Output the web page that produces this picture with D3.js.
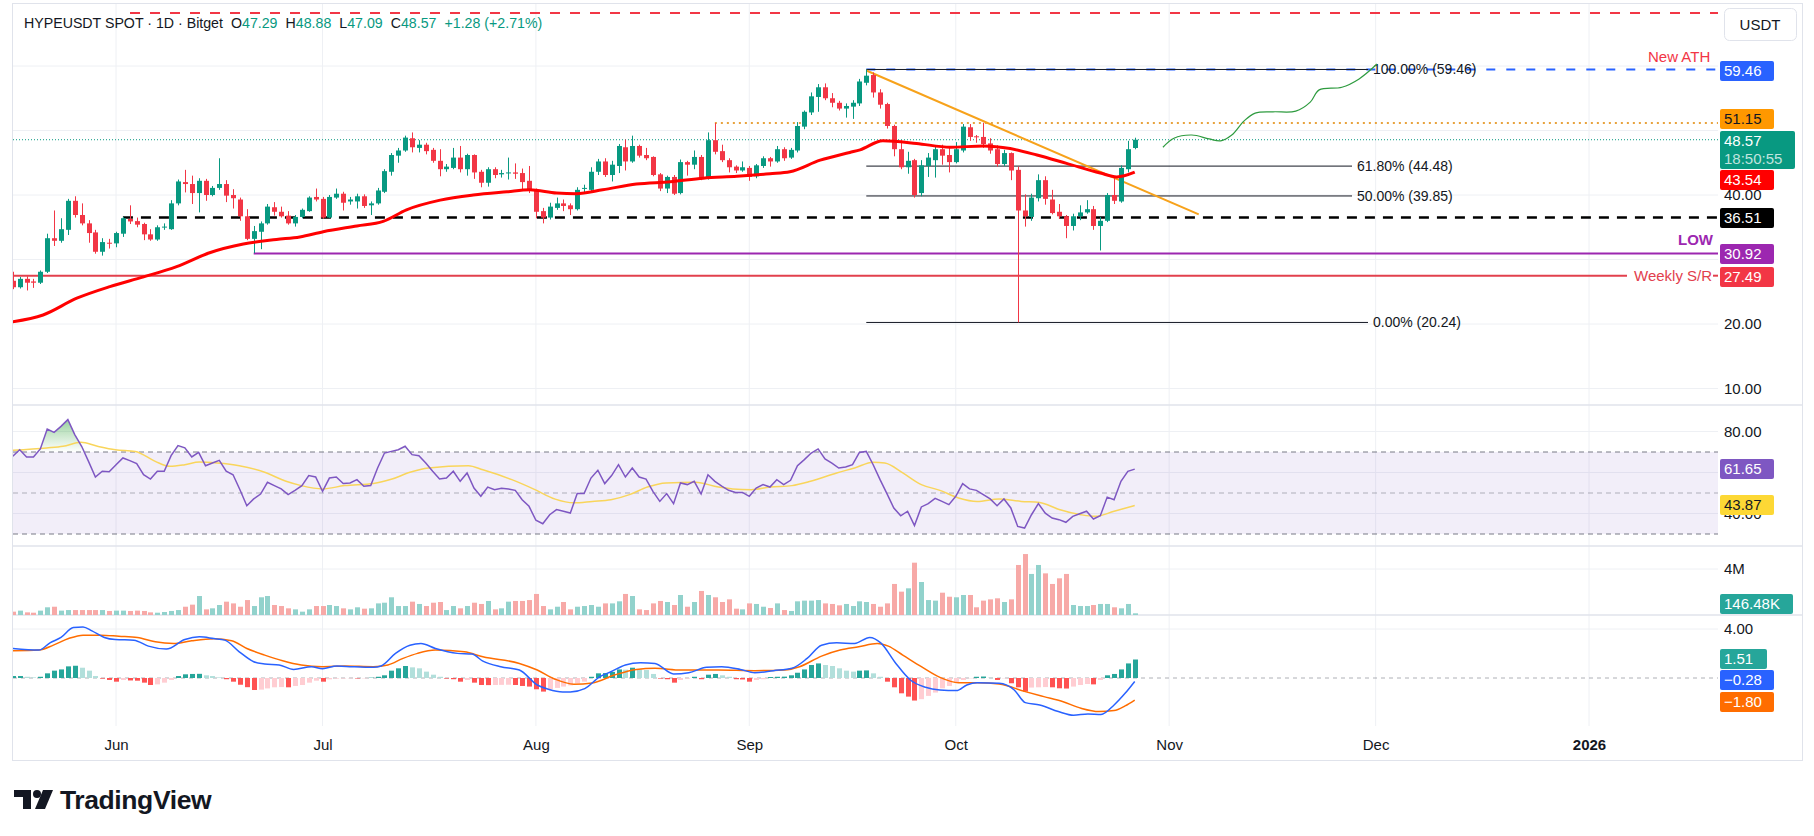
<!DOCTYPE html>
<html>
<head>
<meta charset="utf-8">
<title>HYPEUSDT SPOT 1D</title>
<script src="https://cdn.jsdelivr.net/npm/d3@7"></script>
<style>
  body { margin: 0; background: #fff; }
  svg { display: block; font-family: 'Liberation Sans', Arial, sans-serif; }
  .axis text { font-size: 15px; fill: #131722; font-family: 'Liberation Sans', Arial, sans-serif; }
  .tag text { font-size: 15px; }
</style>
</head>
<body>
<svg id="chart" width="1814" height="836"></svg>
<script>
// daily candles, 17 May 2025 .. 27 Oct 2025
const open = [26.7,25.7,27.0,26.6,26.4,28.1,33.3,32.9,34.6,39.1,
  36.9,35.6,34.2,31.2,32.6,32.5,34.0,36.3,35.95,35.5,
  33.9,33.1,35.0,34.7,38.7,42.0,41.7,40.3,42.2,40.0,
  41.1,41.7,40.0,39.3,36.7,33.2,34.3,35.6,38.1,37.4,
  36.8,35.6,36.6,37.5,39.7,39.4,36.5,39.6,40.2,39.0,
  39.0,39.8,38.4,38.7,40.5,43.6,46.1,46.9,48.8,47.3,
  47.8,47.0,45.3,44.0,44.2,45.8,44.0,46.2,43.6,41.9,
  44.0,43.2,43.4,43.5,43.4,42.2,40.8,37.5,36.5,38.0,
  38.7,38.4,37.8,41.0,40.8,43.6,45.2,43.1,44.5,47.4,
  45.2,47.6,46.2,45.9,43.2,41.0,42.8,40.3,45.1,44.7,
  45.9,42.6,48.5,46.8,45.4,44.4,43.8,44.2,42.9,44.5,
  45.7,45.2,47.1,45.8,46.9,50.6,52.8,55.2,56.7,55.0,
  54.3,53.4,53.7,54.2,57.4,58.6,55.9,54.1,50.7,47.1,
  44.3,45.4,40.3,44.5,45.4,47.1,46.2,45.1,46.9,50.5,
  49.1,49.0,48.0,47.1,44.8,46.5,43.9,37.6,36.6,39.5,
  42.3,39.3,37.4,36.7,35.2,36.7,37.3,37.8,35.2,36.0,
  40.0,39.0,44.0,47.29];
const high = [28.1,27.3,27.4,27.0,28.3,34.0,37.6,36.4,39.4,39.8,
  38.7,36.1,34.6,33.3,33.2,34.3,36.6,38.4,36.5,35.7,
  34.7,35.3,35.6,39.2,42.4,43.9,43.0,42.6,42.5,41.4,
  45.7,42.3,40.9,39.6,37.8,35.2,35.9,38.6,38.9,38.2,
  37.5,36.9,37.9,39.8,41.0,39.7,40.0,41.0,40.5,39.7,
  40.2,40.1,39.0,41.1,44.0,46.5,47.3,49.2,49.7,48.5,
  48.1,47.3,47.1,44.8,47.3,47.6,46.4,46.3,43.9,44.3,
  44.3,43.9,45.8,44.9,44.1,44.5,41.0,38.0,38.8,39.6,
  39.3,38.7,41.2,41.6,44.3,45.6,45.7,45.3,47.9,48.6,
  49.2,47.8,47.3,46.0,43.4,43.0,43.1,45.5,45.3,46.9,
  46.2,49.7,51.15,47.8,45.7,44.6,45.2,44.5,44.8,46.0,
  45.9,47.6,47.4,47.3,51.3,53.1,55.9,57.2,57.3,55.8,
  54.6,54.2,54.7,58.0,59.46,59.0,56.4,54.3,50.9,48.5,
  46.7,45.6,45.4,46.5,47.5,47.8,47.4,48.2,51.0,51.0,
  49.3,51.2,48.8,47.7,47.0,46.6,44.4,40.1,40.2,43.2,
  42.9,40.8,38.6,36.9,37.1,38.4,39.2,38.3,36.6,40.3,
  42.8,44.6,48.4,48.88];
const low = [25.4,25.5,25.2,25.6,26.2,27.9,32.1,32.6,33.8,36.5,
  35.3,32.6,30.9,30.6,31.7,31.9,33.5,35.5,35.0,33.0,
  32.9,32.9,34.6,34.6,38.4,40.4,38.6,37.3,39.1,39.8,
  40.8,38.9,37.9,36.0,33.0,31.0,31.6,35.4,36.8,36.5,
  35.4,35.1,36.4,37.4,39.0,36.3,36.4,39.4,37.6,38.5,
  37.9,38.0,36.9,38.5,40.3,43.0,45.0,46.7,46.6,46.6,
  46.3,45.0,42.9,43.6,44.0,43.5,43.0,42.5,41.2,41.3,
  42.6,42.7,42.4,42.5,40.9,40.3,36.4,35.6,36.2,37.7,
  37.5,36.9,37.6,40.4,40.6,43.1,42.8,42.1,43.4,43.8,
  45.0,45.8,45.4,42.9,40.6,40.3,40.0,40.1,43.0,44.0,
  42.3,42.4,46.3,45.1,43.5,43.4,43.6,42.2,42.6,44.2,
  44.4,45.0,45.3,45.6,46.6,50.2,52.4,52.9,54.7,53.6,
  53.1,52.0,51.8,53.8,57.0,55.1,53.4,50.3,46.0,44.0,
  43.3,39.6,39.8,42.8,42.7,44.7,43.5,44.9,46.6,48.4,
  48.1,47.3,46.4,44.4,44.5,42.3,20.24,35.1,36.0,39.0,
  38.5,37.0,36.3,33.3,34.5,36.1,37.1,34.6,31.4,35.8,
  38.6,38.8,43.5,47.09];
const close = [25.7,27.0,26.4,26.4,28.1,33.3,32.9,34.7,39.1,36.9,
  35.6,34.1,31.2,32.7,32.5,34.1,36.4,35.9,35.4,33.9,
  33.1,35.0,35.1,38.7,42.1,41.7,40.3,42.2,40.0,41.1,
  41.7,39.9,39.5,36.7,33.2,34.4,35.6,38.2,37.4,36.7,
  35.6,36.6,37.7,39.6,39.3,36.5,39.7,40.2,38.8,39.3,
  39.8,38.3,38.7,40.7,43.7,46.2,46.9,48.9,47.4,47.8,
  46.8,45.3,44.0,44.4,45.8,44.0,46.2,43.5,41.9,44.0,
  43.1,43.4,43.5,43.3,42.0,40.7,37.4,36.5,38.2,38.7,
  38.3,37.8,40.8,41.1,43.6,45.2,43.1,44.7,47.6,45.2,
  47.6,46.1,45.7,43.1,41.0,42.8,40.2,45.1,44.7,45.9,
  42.6,48.5,46.7,45.4,44.3,43.8,44.3,42.8,44.6,45.7,
  45.2,47.1,45.7,47.0,50.7,52.9,55.3,56.7,55.0,54.3,
  53.4,53.8,54.3,57.6,58.5,55.9,54.0,50.7,47.1,44.3,
  45.3,40.0,44.6,45.8,47.1,46.1,45.1,47.1,50.6,49.0,
  49.0,47.9,46.9,44.8,46.5,43.8,37.6,36.7,39.6,42.3,
  39.4,37.2,36.7,35.2,36.7,37.3,37.8,35.2,36.0,40.0,
  39.1,44.2,47.1,48.57];
// volume in millions
const volume = [0.29,0.38,0.23,0.2,0.38,0.67,0.72,0.38,0.43,0.43,
  0.43,0.43,0.43,0.43,0.35,0.38,0.38,0.35,0.38,0.35,
  0.23,0.2,0.26,0.35,0.43,0.72,0.9,1.65,0.49,0.58,
  0.87,1.16,1.01,0.72,1.3,0.78,1.54,1.65,0.87,0.78,
  0.58,0.49,0.29,0.49,0.78,0.78,0.87,0.78,0.58,0.49,
  0.67,0.55,0.58,1.01,1.07,1.54,0.78,0.78,1.16,0.96,
  0.78,1.07,1.13,0.43,0.78,0.58,0.78,1.07,0.96,1.22,
  0.49,0.58,1.16,1.22,1.22,1.3,1.83,0.78,0.49,0.72,
  1.13,0.49,0.72,0.78,0.87,0.72,1.01,1.01,1.19,1.83,
  1.65,0.49,0.43,1.01,1.22,1.13,0.87,1.74,0.72,1.13,
  2.09,1.74,1.54,1.13,1.36,0.55,0.49,1.01,0.96,0.72,
  0.61,1.01,0.43,0.35,1.19,1.25,1.25,1.3,1.01,0.96,
  0.84,0.96,0.78,1.19,1.13,0.96,0.72,1.01,2.7,2.03,
  2.32,4.55,2.87,1.3,1.25,1.94,1.59,1.54,1.74,1.74,
  0.67,1.25,1.36,1.45,1.13,1.36,4.35,5.3,3.57,4.35,
  3.62,2.7,3.19,3.57,0.87,0.78,0.78,0.87,0.96,0.96,
  0.67,0.58,0.96,0.146];
const rsi = [67.9,71.1,67.6,67.6,71.5,81.2,79.6,82.5,85.8,78.5,
  72.8,65.4,57.8,60.6,60.4,63.8,67.1,65.8,64.3,58.9,
  56.8,60.6,60.6,68.2,73.1,72.0,67.6,69.8,63.3,64.6,
  65.9,60.6,58.9,51.6,43.8,47.1,49.5,55.2,53.6,52.0,
  49.2,51.3,53.6,58.5,57.8,50.8,57.3,57.8,54.6,54.9,
  56.5,53.3,53.6,62.2,69.5,70.3,71.1,72.8,68.7,68.2,
  64.6,60.6,56.8,57.3,60.6,55.7,59.8,52.4,48.4,52.9,
  51.6,52.3,52.0,51.3,46.7,43.5,36.7,35.0,39.4,41.9,
  41.1,40.2,49.7,49.7,57.3,61.1,54.6,58.5,63.8,57.8,
  62.2,57.8,56.8,50.8,45.9,49.7,44.8,54.9,54.1,55.7,
  49.5,58.9,55.7,53.3,51.3,50.3,50.3,48.4,52.4,54.1,
  52.9,56.5,54.1,56.2,63.3,66.3,69.5,71.5,66.6,64.6,
  62.2,62.7,63.8,69.8,70.3,63.8,56.5,49.7,42.7,38.9,
  41.1,34.1,43.2,44.8,47.4,45.9,44.3,48.4,54.6,52.0,
  51.3,49.2,47.1,43.8,47.1,42.7,33.7,32.9,39.4,44.8,
  40.2,37.8,37.0,35.7,38.6,39.9,41.1,37.3,38.9,48.0,
  46.7,55.7,60.6,61.65];
const macdHist = [0.16,0.16,0.1,0.05,0.1,0.38,0.6,0.7,0.95,1.0,
  0.84,0.6,0.16,-0.05,-0.16,-0.3,-0.16,-0.2,-0.22,-0.38,
  -0.57,-0.52,-0.38,-0.16,0.16,0.3,0.33,0.34,0.22,0.16,
  0.05,-0.1,-0.3,-0.55,-0.75,-0.98,-0.95,-0.85,-0.76,-0.74,
  -0.76,-0.65,-0.57,-0.38,-0.22,-0.3,-0.11,-0.05,-0.04,-0.03,
  -0.04,-0.03,0.03,0.1,0.22,0.6,0.79,0.98,0.87,0.79,
  0.52,0.27,0.1,-0.05,-0.1,-0.3,-0.16,-0.38,-0.57,-0.58,
  -0.57,-0.56,-0.55,-0.57,-0.65,-0.7,-0.92,-1.11,-0.92,-0.81,
  -0.7,-0.6,-0.43,-0.3,0.1,0.38,0.4,0.5,0.7,0.68,
  0.84,0.7,0.65,0.33,-0.05,-0.1,-0.38,-0.16,-0.05,0.1,
  -0.1,0.27,0.33,0.22,0.1,-0.1,-0.12,-0.3,-0.16,-0.1,
  0.08,0.1,0.11,0.22,0.43,0.7,1.06,1.19,1.06,0.98,
  0.79,0.6,0.52,0.6,0.62,0.38,0.1,-0.3,-0.76,-1.25,
  -1.52,-1.84,-1.73,-1.46,-1.19,-0.84,-0.65,-0.38,-0.16,-0.03,
  0.1,0.12,0.03,-0.16,-0.03,-0.43,-0.76,-1.11,-0.78,-0.76,
  -0.74,-0.76,-0.84,-0.86,-0.7,-0.57,-0.49,-0.52,-0.16,0.22,
  0.33,0.7,1.19,1.51];

// smooth lines read at sample points: [day index, value]
const sma50 = [[0,20.35],[4.4,21.4],[9.3,24.0],[14.1,25.8],[19,27.3],[23.8,28.9],[28.6,31.05],
  [33.5,32.4],[38.3,33.1],[41.7,33.5],[45.1,34.3],[50,35.2],[53.8,35.9],[57.2,37.7],[62.1,39.2],
  [66.9,40.0],[71.8,40.5],[75.1,40.8],[79,40.3],[81.9,40.2],[85.7,40.8],[90.6,41.7],[95.5,42.05],
  [100.3,42.6],[105.2,42.9],[110,43.3],[112.9,43.6],[117.3,45.4],[121.6,46.6],[123.1,47.0],
  [126.4,48.4],[131.3,48.0],[136.2,47.4],[141,47.6],[144.9,47.2],[148.8,46.2],[153.1,44.9],
  [158,43.4],[160.4,42.8],[163,43.54]];
const rsiMa = [[0,70.8],[4.9,72.0],[7.3,72.8],[9.9,74.7],[12.3,72.8],[14.9,71.1],[17.8,70.3],
  [20.7,65.4],[22.8,63.0],[25,63.8],[27.1,65.1],[29.7,64.6],[32.9,63.3],[36.6,60.1],[39.7,55.7],
  [41.9,53.6],[45,52.0],[48.2,53.6],[52.4,54.6],[55.1,56.8],[57.7,60.1],[60.4,62.2],[66.2,63.3],
  [68.3,61.3],[72.5,56.5],[75.7,51.9],[78.8,47.0],[81.5,45.2],[84.2,45.9],[86.9,46.7],[89.6,49.2],
  [92.2,52.9],[94.9,54.9],[99.2,55.2],[102.5,52.9],[104.6,52.0],[107.3,51.6],[110,52.9],[113.2,53.6],
  [115.9,55.7],[119.7,59.8],[122.3,62.2],[125,65.0],[126.7,64.6],[129.3,59.8],[132,54.1],[134.7,51.3],
  [137.4,47.6],[140.1,45.9],[143.3,47.1],[146.5,45.9],[149.2,45.4],[151.9,42.1],[155.2,39.4],
  [157.3,38.6],[160,41.1],[163,43.87]];
const macdLine = [[0,2.41],[3.8,2.28],[5.4,2.87],[7,3.31],[8.8,4.12],[10.2,4.17],[11.5,3.85],
  [13.3,3.31],[14.9,3.14],[17.6,3.09],[19.7,2.6],[22.3,2.36],[25,3.14],[27.1,3.36],[29.2,3.22],
  [30.8,3.09],[32.9,2.14],[35,1.33],[36.6,1.14],[38.7,1.06],[40.8,0.7],[43.4,0.92],[45,0.76],
  [47.1,0.98],[49.3,0.92],[52.4,0.87],[53.5,0.98],[55.6,2.01],[57.7,2.68],[59.3,2.82],[61.4,2.41],
  [64.6,2.01],[66.7,1.95],[68.3,1.38],[70.9,0.92],[73.6,0.65],[76.2,-0.57],[77.8,-0.92],[79.9,-1.14],
  [81,-1.14],[83.1,-0.87],[85.3,0.11],[86.9,0.51],[89,1.06],[91.2,1.25],[93.3,1.19],[96,0.33],
  [98.2,0.43],[100.8,0.87],[103,0.92],[105.7,0.7],[107.8,0.43],[110.5,0.6],[113.2,0.79],[115.4,1.6],
  [117.5,2.68],[119.7,2.87],[122.3,2.82],[124.5,3.31],[126.1,2.87],[128.3,1.19],[130.4,-0.16],
  [132.6,-0.76],[134.7,-0.98],[137.1,-1.03],[138.6,-0.57],[140.1,-0.38],[143.3,-0.43],[145.5,-0.98],
  [147.1,-2.01],[149.2,-2.2],[151.9,-2.74],[154.1,-3.04],[156.2,-2.93],[158.1,-2.98],[160,-2.2],
  [161.6,-1.25],[163,-0.28]];
const signalLine = [[0,2.22],[3.8,2.28],[5.9,2.68],[8.1,3.22],[10.2,3.5],[12.8,3.5],[15.4,3.41],
  [18.1,3.31],[20.7,2.95],[23.4,2.82],[26,3.04],[29.2,3.2],[31.8,3.04],[34,2.41],[36.6,1.87],
  [39.2,1.41],[41.9,1.06],[45,0.92],[48.2,0.98],[52.4,0.92],[54.5,1.06],[56.7,1.6],[58.8,2.01],
  [61.4,2.28],[65.6,2.14],[68.3,1.73],[73.6,1.19],[76.2,0.65],[78.8,-0.1],[81.5,-0.5],[84.2,-0.4],
  [87.4,0.24],[90.6,0.7],[93.3,0.79],[97.1,0.65],[102.5,0.65],[107.8,0.6],[112.1,0.65],[114.3,0.92],
  [117.5,1.79],[120.2,2.28],[122.9,2.55],[125.6,2.82],[127.2,2.6],[129.3,1.87],[132,0.92],[134.7,0.05],
  [137.4,-0.38],[140.1,-0.38],[143.3,-0.49],[147.1,-1.11],[149.8,-1.52],[152.5,-1.92],[155.2,-2.47],
  [157.8,-2.74],[160,-2.66],[161.6,-2.28],[163,-1.8]];

// drawings
const projection = [[167.1,47.4],[168.7,48.8],[171.3,49.3],[173.8,48.7],[175.5,48.4],[177.1,49.3],
  [178.9,51.5],[180.5,52.7],[183.1,52.9],[186.4,53.0],[188.5,54.4],[189.8,56.3],[193.1,56.7],
  [195.6,58.0],[198.2,60.3]];
const trendline = [[124,59.3],[172.3,37.0]];
const fibLevels = [[1, 59.46], [0.618, 44.48], [0.5, 39.85], [0, 20.24]];
const monthTicks = [[2025,5],[2025,6],[2025,7],[2025,8],[2025,9],[2025,10],[2025,11],[2026,0]];
const monthNames = ['Jan','Feb','Mar','Apr','May','Jun','Jul','Aug','Sep','Oct','Nov','Dec'];

const svg = d3.select('#chart');
const plotL = 13, plotR = 1718, axisR = 1802;
const start = Date.UTC(2025, 4, 17);

const x = d3.scaleUtc()
  .domain([new Date(start), new Date(Date.UTC(2026, 0, 1))])
  .range([12.8, 1589]);
const xi = (i) => x(new Date(start + i * 864e5));

const yP = d3.scaleLinear().domain([20, 60]).range([324, 66]);
const yR = d3.scaleLinear().domain([30, 70]).range([534, 452]);
const yV = d3.scaleLinear().domain([0, 4]).range([615, 569]);
const yM = d3.scaleLinear().domain([0, 4]).range([678, 629]);

const panes = [
  { id: 'main', top: 4, bottom: 405 },
  { id: 'rsi', top: 405, bottom: 546 },
  { id: 'vol', top: 546, bottom: 615 },
  { id: 'macd', top: 615, bottom: 726 },
];
const defs = svg.append('defs');
panes.forEach((p) => {
  defs.append('clipPath').attr('id', 'clip-' + p.id)
    .append('rect').attr('x', plotL).attr('y', p.top)
    .attr('width', plotR - plotL).attr('height', p.bottom - p.top);
});

// frame
svg.append('rect').attr('x', 12.5).attr('y', 3.5).attr('width', axisR - 12).attr('height', 757)
  .attr('fill', 'none').attr('stroke', '#e0e3eb');

// vertical grid
const monthDates = monthTicks.map(([yy, mm]) => new Date(Date.UTC(yy, mm, 1)));
svg.append('g').selectAll('line').data(monthDates).join('line')
  .attr('x1', (d) => x(d)).attr('x2', (d) => x(d))
  .attr('y1', 4).attr('y2', 726).attr('stroke', '#eef0f4');

// horizontal grid
function hgrid(scale, ticks) {
  svg.append('g').selectAll('line').data(ticks).join('line')
    .attr('x1', plotL).attr('x2', plotR)
    .attr('y1', (d) => scale(d)).attr('y2', (d) => scale(d))
    .attr('stroke', '#eef0f4');
}
hgrid(yP, [10, 20, 30, 40, 50, 60]);
hgrid(yR, [40, 60, 80]);
hgrid(yV, [4]);
hgrid(yM, [4]);

// pane separators
svg.append('g').selectAll('line').data([405, 546, 615]).join('line')
  .attr('x1', plotL).attr('x2', axisR).attr('y1', (d) => d).attr('y2', (d) => d)
  .attr('stroke', '#e0e3eb').attr('stroke-width', 1.5);

// ---------- main pane ----------
const main = svg.append('g').attr('clip-path', 'url(#clip-main)');

// top red dashed line
main.append('line').attr('x1', 130).attr('x2', plotR)
  .attr('y1', yP(68.2)).attr('y2', yP(68.2))
  .attr('stroke', '#f23645').attr('stroke-width', 2).attr('stroke-dasharray', '10,10');

// weekly S/R
main.append('line').attr('x1', plotL).attr('x2', 1627)
  .attr('y1', yP(27.49)).attr('y2', yP(27.49))
  .attr('stroke', '#e2404d').attr('stroke-width', 2);
main.append('line').attr('x1', 1713).attr('x2', plotR)
  .attr('y1', yP(27.49)).attr('y2', yP(27.49))
  .attr('stroke', '#e2404d').attr('stroke-width', 2);

// low line
main.append('line').attr('x1', xi(35)).attr('x2', plotR)
  .attr('y1', yP(30.92)).attr('y2', yP(30.92))
  .attr('stroke', '#9c27b0').attr('stroke-width', 2);

// support dashed
main.append('line').attr('x1', xi(16)).attr('x2', plotR)
  .attr('y1', yP(36.51)).attr('y2', yP(36.51))
  .attr('stroke', '#000').attr('stroke-width', 2.5).attr('stroke-dasharray', '10,8');

// resistance dotted
main.append('line').attr('x1', xi(102)).attr('x2', plotR)
  .attr('y1', yP(51.15)).attr('y2', yP(51.15))
  .attr('stroke', '#e8a33d').attr('stroke-width', 2).attr('stroke-dasharray', '2,4');

// last price dotted
main.append('line').attr('x1', plotL).attr('x2', plotR)
  .attr('y1', yP(48.57)).attr('y2', yP(48.57))
  .attr('stroke', '#089981').attr('stroke-width', 1).attr('stroke-dasharray', '1,2');

// ATH dashed
main.append('line').attr('x1', xi(124)).attr('x2', plotR)
  .attr('y1', yP(59.46)).attr('y2', yP(59.46))
  .attr('stroke', '#2962ff').attr('stroke-width', 2).attr('stroke-dasharray', '9,11');

// fib retracement (outer levels carry a longer label offset in the original drawing)
const fibEnd = (d) => (d[0] === 1 || d[0] === 0 ? 1368 : 1352);
main.append('g').selectAll('line').data(fibLevels).join('line')
  .attr('x1', xi(124)).attr('x2', fibEnd)
  .attr('y1', (d) => yP(d[1])).attr('y2', (d) => yP(d[1]))
  .attr('stroke', '#131722').attr('stroke-width', 1);
main.append('g').selectAll('text').data(fibLevels).join('text')
  .attr('x', (d) => fibEnd(d) + 5).attr('y', (d) => yP(d[1]))
  .attr('dy', '0.35em').attr('font-size', 14).attr('fill', '#131722')
  .text((d) => (d[0] * 100).toFixed(2) + '% (' + d[1].toFixed(2) + ')');

// trendline
main.append('line')
  .attr('x1', xi(trendline[0][0])).attr('y1', yP(trendline[0][1]))
  .attr('x2', xi(trendline[1][0])).attr('y2', yP(trendline[1][1]))
  .attr('stroke', '#f7a21b').attr('stroke-width', 2);

// candles
const candles = d3.range(open.length);
const up = (i) => close[i] >= open[i];
const cg = main.append('g');
cg.selectAll('line').data(candles).join('line')
  .attr('x1', (i) => Math.round(xi(i)) + 0.5).attr('x2', (i) => Math.round(xi(i)) + 0.5)
  .attr('y1', (i) => yP(high[i])).attr('y2', (i) => yP(low[i]))
  .attr('stroke', (i) => (up(i) ? '#089981' : '#f23645'));
cg.selectAll('rect').data(candles).join('rect')
  .attr('x', (i) => Math.round(xi(i)) - 2)
  .attr('width', 5)
  .attr('y', (i) => yP(Math.max(open[i], close[i])))
  .attr('height', (i) => Math.max(1, Math.abs(yP(open[i]) - yP(close[i]))))
  .attr('fill', (i) => (up(i) ? '#089981' : '#f23645'));

// 50 MA
main.append('path').datum(sma50)
  .attr('d', d3.line().x((d) => xi(d[0])).y((d) => yP(d[1])).curve(d3.curveMonotoneX))
  .attr('fill', 'none').attr('stroke', '#f00').attr('stroke-width', 3);

// projected path
main.append('path').datum(projection)
  .attr('d', d3.line().x((d) => xi(d[0])).y((d) => yP(d[1])).curve(d3.curveCatmullRom))
  .attr('fill', 'none').attr('stroke', '#2e9b3f').attr('stroke-width', 1.2);

// text annotations
svg.append('text').attr('x', 1648).attr('y', 57).attr('dy', '0.35em')
  .attr('font-size', 15).attr('fill', '#f23645').text('New ATH');
svg.append('text').attr('x', 1678).attr('y', 240).attr('dy', '0.35em')
  .attr('font-size', 15).attr('font-weight', 'bold').attr('fill', '#9c27b0').text('LOW');
svg.append('text').attr('x', 1634).attr('y', yP(27.49)).attr('dy', '0.35em')
  .attr('font-size', 15).attr('fill', '#e2404d').text('Weekly S/R');

// ---------- RSI pane ----------
const rsiG = svg.append('g').attr('clip-path', 'url(#clip-rsi)');
rsiG.append('rect').attr('x', plotL).attr('width', plotR - plotL)
  .attr('y', yR(70)).attr('height', yR(30) - yR(70))
  .attr('fill', 'rgba(126,87,194,0.1)');
rsiG.selectAll('line.lvl').data([70, 50, 30]).join('line')
  .attr('x1', plotL).attr('x2', plotR)
  .attr('y1', (d) => yR(d)).attr('y2', (d) => yR(d))
  .attr('stroke', '#787b86').attr('stroke-dasharray', '5,4')
  .attr('stroke-opacity', (d) => (d === 50 ? 0.55 : 1));

const grad = defs.append('linearGradient').attr('id', 'obGrad')
  .attr('gradientUnits', 'userSpaceOnUse')
  .attr('x1', 0).attr('x2', 0).attr('y1', yR(70)).attr('y2', yR(100));
grad.append('stop').attr('offset', 0).attr('stop-color', 'rgba(76,175,80,0)');
grad.append('stop').attr('offset', 1).attr('stop-color', 'rgba(46,160,60,1)');
rsiG.append('path').datum(candles)
  .attr('d', d3.area().x((i) => xi(i)).y0(yR(70)).y1((i) => yR(Math.max(70, rsi[i]))))
  .attr('fill', 'url(#obGrad)');

rsiG.append('path').datum(rsiMa)
  .attr('d', d3.line().x((d) => xi(d[0])).y((d) => yR(d[1])).curve(d3.curveMonotoneX))
  .attr('fill', 'none').attr('stroke', '#f9d55b').attr('stroke-width', 1.5);
rsiG.append('path').datum(candles)
  .attr('d', d3.line().x((i) => xi(i)).y((i) => yR(rsi[i])))
  .attr('fill', 'none').attr('stroke', '#7e57c2').attr('stroke-width', 1.5);

// ---------- volume pane ----------
const volG = svg.append('g').attr('clip-path', 'url(#clip-vol)');
volG.selectAll('rect').data(candles).join('rect')
  .attr('x', (i) => Math.round(xi(i)) - 2).attr('width', 5)
  .attr('y', (i) => yV(volume[i])).attr('height', (i) => yV(0) - yV(volume[i]))
  .attr('fill', (i) => (up(i) ? '#92d2cc' : '#f7a9a7'));

// ---------- MACD pane ----------
const macdG = svg.append('g').attr('clip-path', 'url(#clip-macd)');
macdG.append('line').attr('x1', plotL).attr('x2', plotR)
  .attr('y1', yM(0)).attr('y2', yM(0))
  .attr('stroke', '#787b86').attr('stroke-opacity', 0.6).attr('stroke-dasharray', '4,4');
const histColor = (i) => {
  const v = macdHist[i];
  const prev = i > 0 ? macdHist[i - 1] : v;
  if (v >= 0) return v >= prev ? '#26a69a' : '#b2dfdb';
  return v <= prev ? '#ff5252' : '#ffcdd2';
};
macdG.selectAll('rect').data(candles).join('rect')
  .attr('x', (i) => Math.round(xi(i)) - 2).attr('width', 5)
  .attr('y', (i) => Math.min(yM(0), yM(macdHist[i])))
  .attr('height', (i) => Math.abs(yM(macdHist[i]) - yM(0)))
  .attr('fill', histColor);
macdG.append('path').datum(signalLine)
  .attr('d', d3.line().x((d) => xi(d[0])).y((d) => yM(d[1])).curve(d3.curveMonotoneX))
  .attr('fill', 'none').attr('stroke', '#ff6d00').attr('stroke-width', 1.5);
macdG.append('path').datum(macdLine)
  .attr('d', d3.line().x((d) => xi(d[0])).y((d) => yM(d[1])).curve(d3.curveMonotoneX))
  .attr('fill', 'none').attr('stroke', '#2962ff').attr('stroke-width', 1.5);

// ---------- axes ----------
// only the tick labels not hidden behind a price tag
function rightAxis(scale, ticks, fmt) {
  const g = svg.append('g').attr('class', 'axis').attr('transform', `translate(${plotR},0)`)
    .call(d3.axisRight(scale).tickValues(ticks).tickFormat(fmt).tickSize(0).tickPadding(6));
  g.select('.domain').remove();
}
rightAxis(yP, [10, 20, 40], d3.format('.2f'));
rightAxis(yR, [40, 80], d3.format('.2f'));
rightAxis(yV, [4], (d) => d + 'M');
rightAxis(yM, [4], d3.format('.2f'));

const xAxis = svg.append('g').attr('class', 'axis').attr('transform', 'translate(0,730)')
  .call(d3.axisBottom(x).tickValues(monthDates).tickSize(0).tickPadding(9)
    .tickFormat((d) => (d.getUTCMonth() === 0 ? d.getUTCFullYear() : monthNames[d.getUTCMonth()])));
xAxis.select('.domain').remove();
xAxis.selectAll('text').attr('font-weight', (d) => (d.getUTCMonth() === 0 ? 'bold' : null));

// ---------- axis tags ----------
function tag(yc, lines, bg, fg, w) {
  const h = 20 + (lines.length - 1) * 18;
  const g = svg.append('g').attr('class', 'tag');
  g.append('rect').attr('x', 1720).attr('y', yc - h / 2).attr('width', w).attr('height', h)
    .attr('rx', 2).attr('fill', bg);
  lines.forEach((t, k) => {
    g.append('text').attr('x', 1724).attr('y', yc - h / 2 + 10 + k * 18).attr('dy', '0.36em')
      .attr('fill', k > 0 ? 'rgba(255,255,255,0.75)' : fg).text(t);
  });
}
tag(71, ['59.46'], '#2962ff', '#fff', 54);
tag(119, ['51.15'], '#ff9800', '#131722', 54);
tag(150, ['48.57', '18:50:55'], '#089981', '#fff', 75);
tag(180, ['43.54'], '#f00', '#fff', 54);
tag(218, ['36.51'], '#000', '#fff', 54);
tag(254, ['30.92'], '#9c27b0', '#fff', 54);
tag(277, ['27.49'], '#f23645', '#fff', 54);
tag(469, ['61.65'], '#7e57c2', '#fff', 54);
tag(505, ['43.87'], '#fdd835', '#131722', 54);
tag(604, ['146.48K'], '#26a69a', '#fff', 73);
tag(659, ['1.51'], '#26a69a', '#fff', 47);
tag(680, ['\u22120.28'], '#2962ff', '#fff', 54);
tag(702, ['\u22121.80'], '#ff6d00', '#fff', 54);

// currency button
svg.append('rect').attr('x', 1724.5).attr('y', 8.5).attr('width', 72).attr('height', 32)
  .attr('rx', 5).attr('fill', '#fff').attr('stroke', '#e0e3eb');
svg.append('text').attr('x', 1760).attr('y', 24.5).attr('dy', '0.36em')
  .attr('text-anchor', 'middle').attr('font-size', 15).attr('fill', '#131722').text('USDT');

// ---------- legend ----------
const teal = '#089981';
const legend = svg.append('text').attr('x', 24).attr('y', 28).attr('font-size', 14.2).attr('fill', '#131722');
legend.append('tspan').text('HYPEUSDT SPOT \u00b7 1D \u00b7 Bitget');
[['O', '47.29'], ['H', '48.88'], ['L', '47.09'], ['C', '48.57']].forEach(([k, v]) => {
  legend.append('tspan').attr('dx', 8).text(k);
  legend.append('tspan').attr('fill', teal).text(v);
});
legend.append('tspan').attr('dx', 8).attr('fill', teal).text('+1.28 (+2.71%)');

// ---------- logo ----------
const logo = svg.append('g').attr('fill', '#131722');
logo.append('path').attr('d', 'M14,790 H31 V809 H23 V797 H14 Z');
logo.append('circle').attr('cx', 37).attr('cy', 794).attr('r', 4);
logo.append('path').attr('d', 'M43,790 H53 L45,809 H35 Z');
svg.append('text').attr('x', 60).attr('y', 809).attr('font-size', 26.5).attr('font-weight', 'bold')
  .attr('fill', '#131722').attr('letter-spacing', -0.4).text('TradingView');
</script>
</body>
</html>
